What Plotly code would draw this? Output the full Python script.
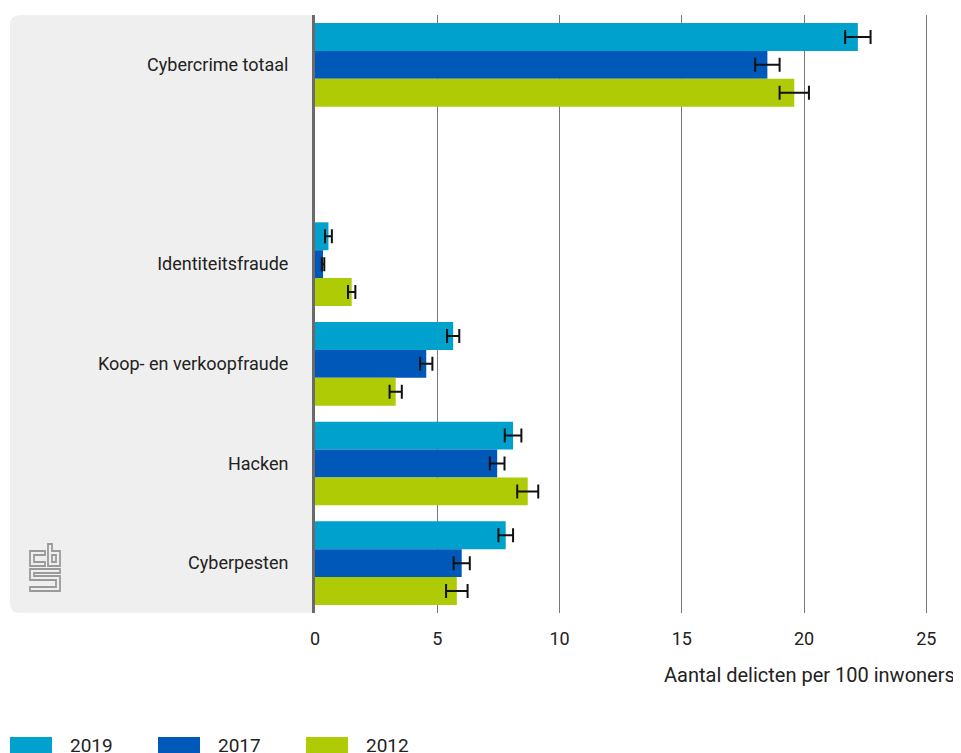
import plotly.graph_objects as go

categories = ["Cybercrime totaal", " ", "Identiteitsfraude", "Koop- en verkoopfraude", "Hacken", "Cyberpesten"]
years = ["2019", "2017", "2012"]
v2019 = [22.2, None, 0.55, 5.65, 8.1, 7.8]
e2019 = [0.52, None, 0.14, 0.25, 0.34, 0.3]
v2017 = [18.5, None, 0.33, 4.55, 7.45, 6.0]
e2017 = [0.5, None, 0.05, 0.25, 0.3, 0.33]
v2012 = [19.6, None, 1.5, 3.3, 8.7, 5.8]
e2012 = [0.6, None, 0.15, 0.25, 0.43, 0.44]
colors = ["#00a1cd", "#0058b8", "#afcb05"]
x_ticks = [0, 5, 10, 15, 20, 25]
x_title = "Aantal delicten per 100 inwoners"

FONT = "Roboto"
OFF = 8  # page body margin
W, H = 961 - OFF, 753 - OFF
L, T, PW, PH = 315, 15, 626, 598  # in window pixels


def px(x):
    return (x - L) / PW


def py(y):
    return (T + PH - y) / PH


fig = go.Figure()
for name, vals, errs, col in zip(years, [v2019, v2017, v2012], [e2019, e2017, e2012], colors):
    fig.add_trace(go.Bar(
        y=categories, x=vals, orientation="h", name=name,
        marker=dict(color=col, line=dict(width=0)),
        error_x=dict(type="data", array=errs, color="#111111", thickness=2, width=7),
        showlegend=False,
    ))

shapes = []
r = 10
x0, x1, y0, y1 = 10, 315, 15, 613
path = (f"M {px(x1)},{py(y0)} L {px(x0 + r)},{py(y0)} "
        f"Q {px(x0)},{py(y0)} {px(x0)},{py(y0 + r)} "
        f"L {px(x0)},{py(y1 - r)} Q {px(x0)},{py(y1)} {px(x0 + r)},{py(y1)} "
        f"L {px(x1)},{py(y1)} Z")
shapes.append(dict(type="path", xref="paper", yref="paper", path=path,
                   fillcolor="#efefef", line=dict(width=0), layer="below"))


def poly(pts):
    return "M " + " L ".join(f"{px(a)},{py(b)}" for a, b in pts) + " Z"


logo_paths = [
    [(45, 551), (30, 551), (30, 566), (45, 566), (45, 562), (34, 562), (34, 555), (45, 555)],
    [(48, 544), (52, 544), (52, 551), (60, 551), (60, 566), (48, 566)],
    [(52, 555), (56, 555), (56, 562), (52, 562)],
    [(30, 569), (60, 569), (60, 573), (34, 573), (34, 576), (60, 576), (60, 591), (30, 591),
     (30, 587), (56, 587), (56, 580), (30, 580)],
]
for pts in logo_paths:
    shapes.append(dict(type="path", xref="paper", yref="paper", path=poly(pts),
                       fillcolor="rgba(0,0,0,0)", line=dict(color="#9a9a9a", width=1.8)))

annotations = [dict(text=x_title, xref="paper", yref="paper", x=px(957), y=py(675),
                    xanchor="right", yanchor="middle", showarrow=False,
                    font=dict(family=FONT, size=20, color="#222"))]

for i, (name, col) in enumerate(zip(years, colors)):
    bx = 10 + i * 148
    shapes.append(dict(type="rect", xref="paper", yref="paper",
                       x0=px(bx), x1=px(bx + 42), y0=py(737), y1=py(760),
                       fillcolor=col, line=dict(width=0)))
    annotations.append(dict(text=name, xref="paper", yref="paper", x=px(bx + 58), y=py(745),
                            xanchor="left", yanchor="middle", showarrow=False,
                            font=dict(family=FONT, size=19, color="#222")))

fig.update_layout(
    width=W, height=H,
    margin=dict(l=L - OFF, r=961 - L - PW, t=T - OFF, b=753 - T - PH, pad=0),
    paper_bgcolor="white", plot_bgcolor="rgba(0,0,0,0)",
    barmode="group", bargap=0.16, bargroupgap=0,
    font=dict(family=FONT, color="#222"),
    shapes=shapes, annotations=annotations,
    xaxis=dict(range=[0, 25.6], tickvals=x_ticks, showgrid=True, gridcolor="#777777", gridwidth=1,
               zeroline=False, showline=False, ticks="", ticklabelstandoff=13,
               tickfont=dict(family=FONT, size=18, color="#222"), layer="below traces"),
    yaxis=dict(categoryorder="array", categoryarray=categories, autorange="reversed",
               showline=True, linecolor="#6a6a6a", linewidth=3, showgrid=False, ticks="",
               ticklabelstandoff=20, tickfont=dict(family=FONT, size=18, color="#222")),
)

fig.write_html("out.html")
